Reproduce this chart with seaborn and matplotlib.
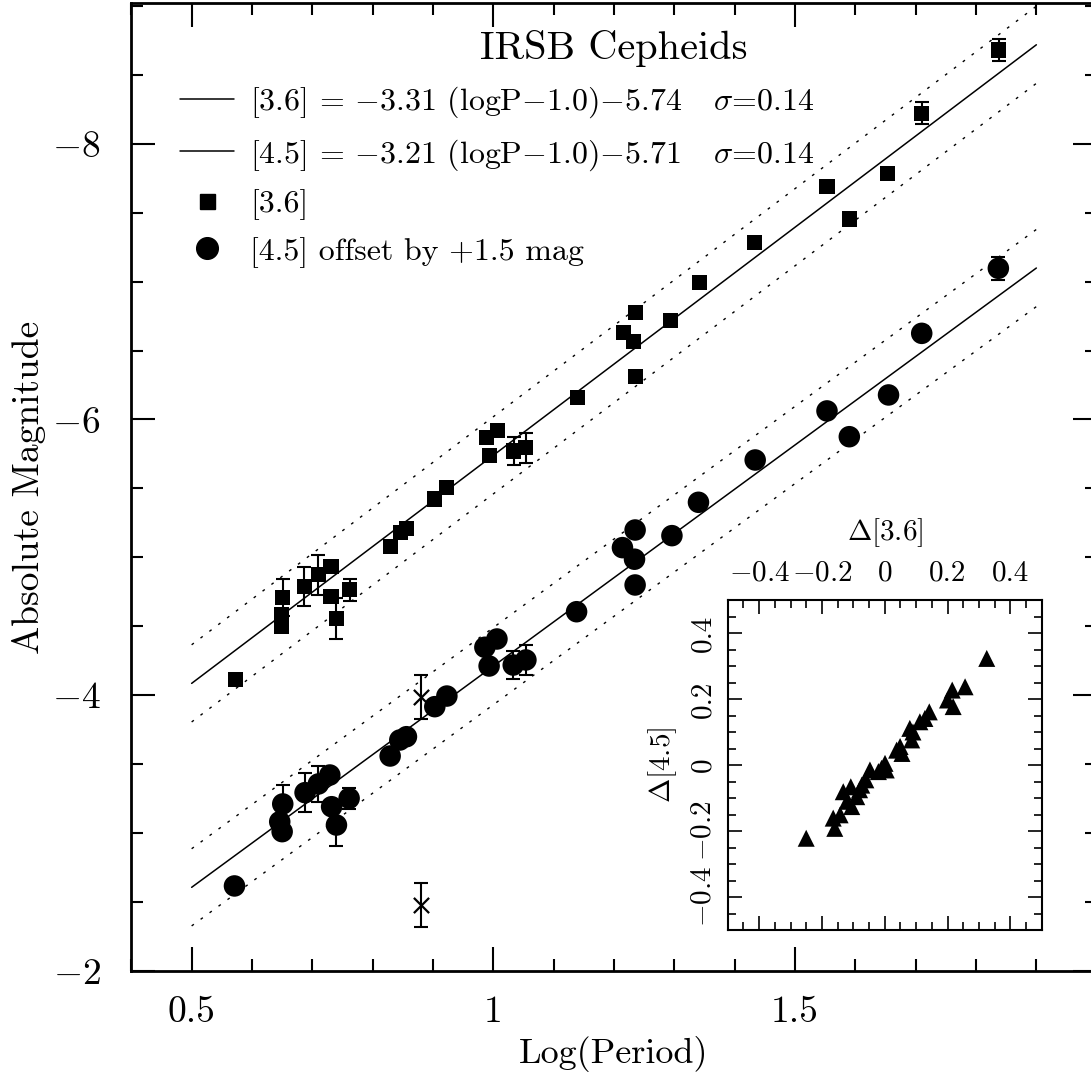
import numpy as np
import pandas as pd
import matplotlib
matplotlib.use("Agg")
import matplotlib.pyplot as plt
from matplotlib.lines import Line2D
from matplotlib.ticker import MultipleLocator
import seaborn as sns

# ---------------- data ----------------
logp_36 = [0.572, 0.651, 0.649, 0.649, 0.687, 0.710, 0.731, 0.731, 0.740, 0.762,
           0.830, 0.846, 0.856, 0.902, 0.922, 0.989, 0.993, 1.007, 1.034, 1.054,
           1.139, 1.215, 1.233, 1.235, 1.235, 1.294, 1.341, 1.433, 1.553, 1.590,
           1.654, 1.710, 1.838]
mag_36 = [-4.115, -4.707, -4.581, -4.501, -4.787, -4.872, -4.932, -4.714, -4.557, -4.763,
          -5.077, -5.180, -5.210, -5.423, -5.508, -5.868, -5.737, -5.917, -5.771, -5.795,
          -6.161, -6.633, -6.565, -6.778, -6.311, -6.717, -6.993, -7.283, -7.689, -7.455,
          -7.782, -8.222, -8.681]
err_36 = [0.03, 0.136, 0.03, 0.03, 0.14, 0.144, 0.03, 0.03, 0.15, 0.08,
          0.03, 0.03, 0.03, 0.03, 0.03, 0.03, 0.03, 0.03, 0.10, 0.11,
          0.03, 0.03, 0.03, 0.03, 0.03, 0.03, 0.03, 0.03, 0.03, 0.03,
          0.03, 0.08, 0.077]

logp_45 = [0.571, 0.651, 0.646, 0.650, 0.688, 0.710, 0.729, 0.732, 0.740, 0.761,
           0.829, 0.845, 0.856, 0.903, 0.923, 0.986, 1.006, 0.993, 1.033, 1.054,
           1.138, 1.214, 1.234, 1.235, 1.235, 1.296, 1.340, 1.434, 1.553, 1.590,
           1.655, 1.710, 1.837]
mag_45_off = [-2.615, -3.210, -3.081, -3.009, -3.292, -3.355, -3.420, -3.190, -3.057, -3.251,
              -3.558, -3.674, -3.698, -3.916, -3.993, -4.347, -4.407, -4.211, -4.218, -4.255,
              -4.605, -5.070, -4.986, -5.198, -4.799, -5.157, -5.399, -5.706, -6.062, -5.875,
              -6.178, -6.625, -7.097]
err_45 = [0.03, 0.14, 0.03, 0.03, 0.14, 0.13, 0.03, 0.03, 0.15, 0.075,
          0.03, 0.03, 0.03, 0.03, 0.03, 0.03, 0.03, 0.03, 0.10, 0.11,
          0.03, 0.03, 0.03, 0.03, 0.03, 0.03, 0.03, 0.03, 0.03, 0.03,
          0.03, 0.05, 0.085]

logp_excl = [0.880, 0.880]
mag_excl = [-3.988, -2.477]
err_excl = [0.16, 0.16]

# fit relations (from the legend) and the 2-sigma band
fit_x = [0.5, 1.9]
slope_36, zp_36 = -3.31, -5.74
slope_45, zp_45 = -3.21, -5.71
offset_45 = 1.5
sigma = 0.14
pivot = 1.0

# inset: residuals
d36 = [-0.250, 0.325, 0.256, 0.215, 0.200, 0.218, 0.142, 0.128, 0.112, 0.080,
       0.086, 0.049, 0.038, 0.001, -0.010, 0.005, -0.020, -0.047, -0.073, -0.060,
       -0.108, -0.132, -0.089, -0.080, -0.105, -0.120, -0.142, -0.164, -0.159, 0.090,
       0.055]
d45 = [-0.222, 0.323, 0.237, 0.227, 0.197, 0.177, 0.161, 0.141, 0.131, 0.111,
       0.076, 0.056, 0.045, 0.005, -0.010, -0.015, -0.020, -0.015, -0.061, -0.045,
       -0.066, -0.081, -0.096, -0.075, -0.126, -0.110, -0.151, -0.161, -0.192, 0.100,
       0.035]

xticks_main = [0.5, 1.0, 1.5]
xticklabels_main = ["0.5", "1", "1.5"]
yticks_main = [-8, -6, -4, -2]
yticklabels_main = ["$-$8", "$-$6", "$-$4", "$-$2"]
ticks_inset = [-0.4, -0.2, 0.0, 0.2, 0.4]
ticklabels_inset = ["$-$0.4", "$-$0.2", "0", "0.2", "0.4"]

title_text = "IRSB Cepheids"
legend_labels = [
    "[3.6] = $-$3.31 (logP$-$1.0)$-$5.74   $\\sigma$=0.14",
    "[4.5] = $-$3.21 (logP$-$1.0)$-$5.71   $\\sigma$=0.14",
    "[3.6]",
    "[4.5] offset by +1.5 mag",
]

# ---------------- style ----------------
sns.set_theme(style="ticks")
plt.rcParams["font.family"] = ["cmr10", "DejaVu Serif"]
plt.rcParams["mathtext.fontset"] = "cm"
plt.rcParams["axes.formatter.use_mathtext"] = True
plt.rcParams["axes.unicode_minus"] = True
plt.rcParams["axes.edgecolor"] = "black"
plt.rcParams["xtick.color"] = "black"
plt.rcParams["ytick.color"] = "black"
plt.rcParams["text.color"] = "black"
plt.rcParams["axes.labelcolor"] = "black"

W, H = 1091, 1078
fig = plt.figure(figsize=(W / 100, H / 100), dpi=100)
fig.patch.set_facecolor("white")

# main axes: x 0.4..2.0, y -2..-9.02 (right edge falls outside the image)
ax = fig.add_axes([131.3 / W, (H - 970.7) / H, 965.4 / W, 967.4 / H])
ax.set_facecolor("white")

# fit lines
fx = np.array(fit_x)
for slope, zp, off in [(slope_36, zp_36, 0.0), (slope_45, zp_45, offset_45)]:
    fy = slope * (fx - pivot) + zp + off
    sns.lineplot(x=fx, y=fy, ax=ax, color="black", lw=1.1, estimator=None, sort=False)
    for s in (-2 * sigma, 2 * sigma):
        ax.plot(fx, fy + s, color="black", lw=1.0, linestyle=(0, (2, 6)))

# error bars
ax.errorbar(logp_36, mag_36, yerr=err_36, fmt="none", ecolor="black",
            elinewidth=1.5, capsize=4.7, capthick=1.5, zorder=3)
ax.errorbar(logp_45, mag_45_off, yerr=err_45, fmt="none", ecolor="black",
            elinewidth=1.5, capsize=4.7, capthick=1.5, zorder=3)
ax.errorbar(logp_excl, mag_excl, yerr=err_excl, fmt="none", ecolor="black",
            elinewidth=1.5, capsize=4.7, capthick=1.5, zorder=3)

df36 = pd.DataFrame({"logP": logp_36, "mag": mag_36})
df45 = pd.DataFrame({"logP": logp_45, "mag": mag_45_off})
sns.scatterplot(data=df36, x="logP", y="mag", marker="s", s=118, color="black",
                edgecolor="none", linewidth=0, ax=ax, zorder=4)
sns.scatterplot(data=df45, x="logP", y="mag", marker="o", s=240, color="black",
                edgecolor="none", linewidth=0, ax=ax, zorder=4)
ax.scatter(logp_excl, mag_excl, marker="x", s=120, color="black", linewidths=1.6, zorder=4)

ax.set_xlim(0.4, 2.0)
ax.set_ylim(-2, -9.02)
ax.set_xticks(xticks_main, xticklabels_main)
ax.set_yticks(yticks_main, yticklabels_main)
ax.xaxis.set_minor_locator(MultipleLocator(0.1))
ax.yaxis.set_minor_locator(MultipleLocator(0.5))
ax.tick_params(which="both", direction="in", top=True, right=True, width=1.5, colors="black")
ax.tick_params(which="major", length=17, labelsize=27)
ax.tick_params(which="minor", length=8.6)
ax.tick_params(axis="x", which="major", pad=18)
ax.tick_params(axis="y", which="major", pad=22)
for sp in ax.spines.values():
    sp.set_linewidth(2.0)
    sp.set_color("black")
ax.set_xlabel("Log(Period)", fontsize=26, labelpad=5)
ax.set_ylabel("Absolute Magnitude", fontsize=27, labelpad=4)

ax.text(0.5, 0.953, title_text, transform=ax.transAxes, ha="center", va="center",
        fontsize=29)

handles = [
    Line2D([], [], color="black", lw=1.1),
    Line2D([], [], color="black", lw=1.1),
    Line2D([], [], color="black", marker="s", ms=10.8, ls="none"),
    Line2D([], [], color="black", marker="o", ms=15.6, ls="none"),
]
leg = ax.legend(handles, legend_labels, loc="upper left",
                bbox_to_anchor=((180 - 131.3) / 965.4, (970.7 - 85) / 967.4),
                bbox_transform=ax.transAxes, frameon=False, fontsize=23,
                handlelength=1.7, handletextpad=0.5, labelspacing=0.52,
                borderpad=0, borderaxespad=0)

# ---------------- inset ----------------
ax2 = fig.add_axes([727.7 / W, (H - 930) / H, 314 / W, 330 / H])
ax2.set_facecolor("white")
dfi = pd.DataFrame({"d36": d36, "d45": d45})
sns.scatterplot(data=dfi, x="d36", y="d45", marker="^", s=150, color="black",
                edgecolor="none", linewidth=0, ax=ax2, zorder=4)
ax2.set_xlim(-0.5, 0.5)
ax2.set_ylim(-0.5, 0.5)
ax2.set_xticks(ticks_inset, ticklabels_inset)
ax2.set_yticks(ticks_inset, ticklabels_inset)
ax2.xaxis.set_minor_locator(MultipleLocator(0.05))
ax2.yaxis.set_minor_locator(MultipleLocator(0.05))
ax2.xaxis.set_label_position("top")
ax2.tick_params(which="both", direction="in", top=True, bottom=True, left=True, right=True,
                labeltop=True, labelbottom=False, width=1.2, colors="black")
ax2.tick_params(which="major", length=10, labelsize=21)
ax2.tick_params(which="minor", length=6)
ax2.tick_params(axis="x", which="major", pad=10)
ax2.tick_params(axis="y", which="major", pad=8)
for lab in ax2.get_yticklabels():
    lab.set_rotation(90)
    lab.set_va("center")
for sp in ax2.spines.values():
    sp.set_linewidth(1.5)
    sp.set_color("black")
ax2.set_xlabel("$\\Delta$[3.6]", fontsize=21, labelpad=14)
ax2.set_ylabel("$\\Delta$[4.5]", fontsize=21, labelpad=8)

fig.savefig("out.png", dpi=100, facecolor="white")
